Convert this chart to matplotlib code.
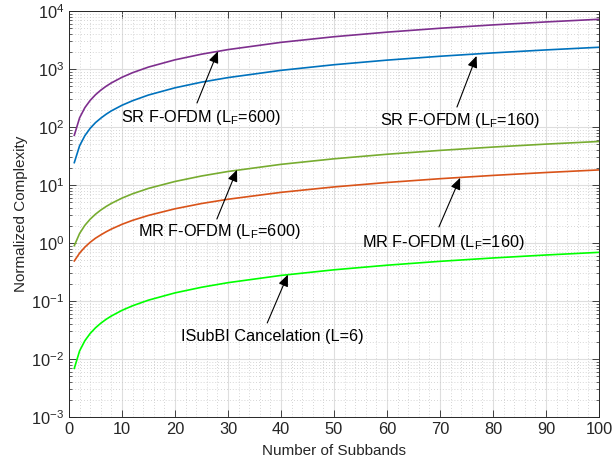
import matplotlib
matplotlib.use('Agg')
import matplotlib.pyplot as plt
from matplotlib.ticker import LogLocator, MultipleLocator, NullFormatter

plt.rcParams['font.family'] = ['Liberation Sans', 'DejaVu Sans']
plt.rcParams['mathtext.default'] = 'regular'

# --- Data ---
subbands = [1, 2, 3, 4, 5, 6, 7, 8, 10, 12, 15, 20, 25, 30, 40, 50, 60, 70, 80, 90, 100]
sr_600 = [72, 144, 216, 288, 360, 432, 504, 576, 720, 864, 1080, 1440, 1800, 2160,
          2880, 3600, 4320, 5040, 5760, 6480, 7200]
sr_160 = [24.3, 47.5, 71, 95, 119, 142, 166, 190, 237, 284, 356, 474, 593, 711,
          948, 1185, 1422, 1659, 1896, 2133, 2370]
mr_600 = [0.9, 1.46, 2.02, 2.58, 3.14, 3.70, 4.26, 4.82, 5.94, 7.06, 8.74, 11.5, 14.3,
          17.1, 22.7, 28.3, 33.9, 39.5, 45.1, 50.7, 56.3]
mr_160 = [0.49, 0.67, 0.85, 1.03, 1.21, 1.38, 1.56, 1.74, 2.10, 2.46, 2.99, 3.89, 4.79,
          5.68, 7.47, 9.26, 11.05, 12.84, 14.63, 16.42, 18.2]
isubbi = [0.0069, 0.0138, 0.0207, 0.0276, 0.0345, 0.0414, 0.0483, 0.0552, 0.069, 0.0828,
          0.1035, 0.138, 0.1725, 0.207, 0.276, 0.345, 0.414, 0.483, 0.552, 0.621, 0.69]

series = [
    (sr_600, '#7E2F8E'),
    (sr_160, '#0072BD'),
    (mr_600, '#77AC30'),
    (mr_160, '#D95319'),
    (isubbi, '#00FF00'),
]

# annotations: label, arrow head, arrow tail, text position (baseline centre)
notes = [
    ('SR F-OFDM (L$_F$=600)', (28.1, 2023), (24.15, 259), (24.9, 123)),
    ('SR F-OFDM (L$_F$=160)', (76.9, 1680), (73.2, 221), (73.8, 108)),
    ('MR F-OFDM (L$_F$=600)', (31.7, 18.3), (27.9, 2.59), (28.4, 1.32)),
    ('MR F-OFDM (L$_F$=160)', (73.8, 13.3), (69.8, 1.89), (70.6, 0.863)),
    ('ISubBI Cancelation (L=6)', (41.3, 0.285), (37.4, 0.0418), (38.3, 0.0204)),
]

fig = plt.figure(figsize=(6.14, 4.68), dpi=100)
ax = fig.add_axes([69 / 614, 1 - 417 / 468, 530 / 614, 406 / 468])

for vals, col in series:
    ax.plot(subbands, vals, color=col, lw=1.2)

ax.set_yscale('log')
ax.set_xlim(0, 100)
ax.set_ylim(1e-3, 1e4)
ax.xaxis.set_major_locator(MultipleLocator(10))
ax.xaxis.set_minor_locator(MultipleLocator(2))
ax.xaxis.set_minor_formatter(NullFormatter())
ax.yaxis.set_major_locator(LogLocator(base=10, numticks=12))
ax.yaxis.set_minor_locator(LogLocator(base=10, subs=range(2, 10), numticks=12))
ax.yaxis.set_minor_formatter(NullFormatter())

ax.grid(True, which='major', color='#dedede', lw=0.8, ls='-')
ax.grid(True, which='minor', color='#c8c8c8', lw=0.6, ls=(0, (1, 2.5)))
ax.set_axisbelow(True)

ax.tick_params(which='both', direction='in', top=True, right=True,
               colors='#262626', labelsize=11.8, labelcolor='#262626')
ax.tick_params(which='major', length=5, width=0.6)
ax.tick_params(which='minor', length=2.5, width=0.5)
ax.tick_params(axis='x', which='minor', length=0)
for s in ax.spines.values():
    s.set_color('#262626')
    s.set_linewidth(0.7)

ax.set_xlabel('Number of Subbands', fontsize=11, color='#262626', labelpad=5)
ax.set_ylabel('Normalized Complexity', fontsize=11, color='#262626', labelpad=2)

for label, head, tail, pos in notes:
    ax.annotate('', xy=head, xytext=tail,
                arrowprops=dict(arrowstyle='-|>,head_length=0.7,head_width=0.3',
                                color='k', lw=0.8, shrinkA=0, shrinkB=0))
    ax.text(pos[0], pos[1], label, ha='center', va='baseline', fontsize=11.7, color='k')

fig.savefig('out.png', dpi=100)
